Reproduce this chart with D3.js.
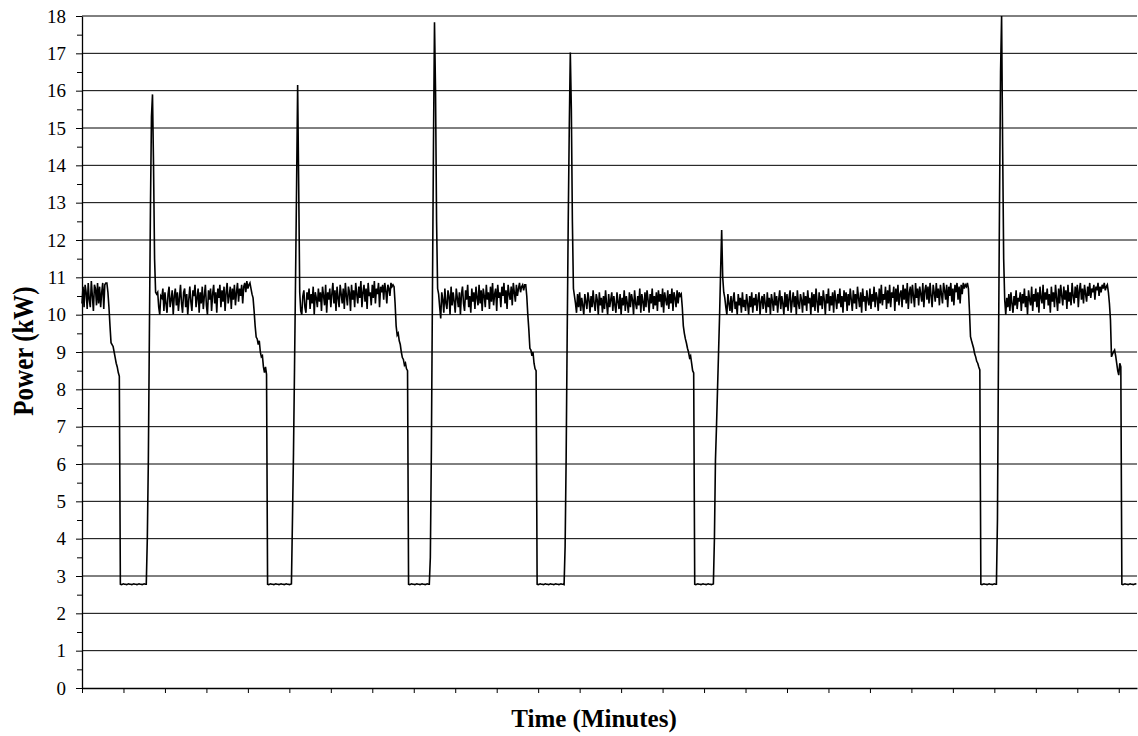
<!DOCTYPE html>
<html>
<head>
<meta charset="utf-8">
<script src="https://cdn.jsdelivr.net/npm/d3@7"></script>
<style>
  body { margin: 0; background: #fff; }
</style>
</head>
<body>
<svg width="1138" height="736"></svg>
<script>
// Logger samples (kW), one every 0.125 minute, grouped by compressor cycle:
// running, shutdown, idle, restart spike
const sampleStep = 0.125;

const cycle1 = [
  10.3, 10.75, 10.2, 10.8, 10.6, 10.15, 10.85, 10.4, 10.2, 10.9, 10.5, 10.1, 10.8, 10.7, 10.25, 10.85, 10.3, 10.75, 10.2, 10.6,
  10.85, 10.15, 10.8, 10.85,
  10.85, 10.6, 10.2, 9.7, 9.25, 9.2, 9.15, 9.0, 8.85, 8.7, 8.6, 8.45, 8.35,
  2.78, 2.77, 2.78, 2.79, 2.78, 2.78, 2.77, 2.78, 2.79, 2.78,
  2.78, 2.77, 2.78, 2.79, 2.78, 2.78, 2.77, 2.78, 2.79, 2.78,
  2.78, 2.77, 2.78, 2.79, 2.78, 2.78,
  4.0, 6.1, 9.5, 12.8, 15.3, 15.9, 14.0, 11.5, 10.6];

const cycle2 = [
  10.55, 10.6, 10.2, 10.0, 10.5, 10.45, 10.7, 10.1, 10.6, 10.3, 10.05, 10.55, 10.75, 10.2, 10.4, 10.65, 10.0, 10.5, 10.7, 10.25,
  10.6, 10.1, 10.45, 10.8, 10.3, 10.05, 10.6, 10.7, 10.2, 10.55, 10.0, 10.4, 10.75, 10.35, 10.1, 10.65, 10.5, 10.8, 10.2, 10.45,
  10.7, 10.05, 10.6, 10.3, 10.75, 10.15, 10.5, 10.8, 10.25, 10.0, 10.65, 10.4, 10.7, 10.1, 10.55, 10.8, 10.3, 10.6, 10.05, 10.7,
  10.45, 10.8, 10.2, 10.65, 10.35, 10.75, 10.1, 10.6, 10.85, 10.3, 10.5, 10.75, 10.15, 10.7, 10.4, 10.8, 10.25, 10.6, 10.85, 10.35,
  10.7, 10.5, 10.8, 10.3, 10.75, 10.85, 10.6, 10.9, 10.7, 10.8,
  10.85, 10.7, 10.55, 10.45, 10.1, 9.7, 9.4, 9.35, 9.2, 9.3, 9.0, 8.87, 8.9, 8.6, 8.45, 8.6, 8.4,
  2.78, 2.77, 2.78, 2.79, 2.78, 2.78, 2.77, 2.78, 2.79, 2.78,
  2.78, 2.77, 2.78, 2.79, 2.78, 2.78, 2.77, 2.78, 2.79, 2.78,
  2.78, 2.77, 2.78, 2.79,
  4.5, 6.3, 8.6, 11.0, 13.5, 16.15, 13.5, 10.6];

const cycle3 = [
  10.1, 10.0, 10.5, 10.65, 10.2, 10.05, 10.6, 10.4, 10.7, 10.15, 10.55, 10.3, 10.75, 10.0, 10.6, 10.45, 10.2, 10.7, 10.35, 10.6,
  10.1, 10.75, 10.5, 10.25, 10.8, 10.05, 10.6, 10.4, 10.7, 10.2, 10.55, 10.85, 10.3, 10.65, 10.1, 10.75, 10.45, 10.2, 10.8, 10.55,
  10.3, 10.7, 10.15, 10.85, 10.5, 10.25, 10.75, 10.6, 10.1, 10.8, 10.4, 10.65, 10.2, 10.85, 10.55, 10.3, 10.75, 10.45, 10.9, 10.2,
  10.6, 10.8, 10.35, 10.7, 10.15, 10.85, 10.5, 10.6, 10.25, 10.8, 10.45, 10.9, 10.3, 10.7, 10.55, 10.85, 10.2, 10.75, 10.6, 10.8,
  10.4, 10.85, 10.65, 10.3, 10.8, 10.7, 10.5, 10.85, 10.75, 10.8,
  10.75, 10.3, 9.7, 9.45, 9.5, 9.3, 9.2, 9.0, 8.85, 8.8, 8.65, 8.7, 8.55, 8.5,
  2.78, 2.77, 2.78, 2.79, 2.78, 2.78, 2.77, 2.78, 2.79, 2.78,
  2.78, 2.77, 2.78, 2.79, 2.78, 2.78, 2.77, 2.78, 2.79, 2.78,
  2.78,
  3.5, 6.4, 10.5, 14.5, 17.83, 16.0, 12.5, 10.7];

const cycle4 = [
  10.55, 10.2, 9.9, 10.6, 10.4, 10.05, 10.7, 10.3, 10.15, 10.65, 10.5, 10.0, 10.75, 10.25, 10.6, 10.35, 10.05, 10.7, 10.45, 10.2,
  10.6, 10.0, 10.55, 10.75, 10.3, 10.1, 10.65, 10.4, 10.8, 10.2, 10.5, 10.05, 10.7, 10.35, 10.6, 10.15, 10.75, 10.45, 10.25, 10.8,
  10.3, 10.65, 10.1, 10.7, 10.5, 10.2, 10.8, 10.4, 10.6, 10.15, 10.75, 10.35, 10.85, 10.25, 10.55, 10.7, 10.1, 10.8, 10.45, 10.6,
  10.2, 10.75, 10.5, 10.85, 10.3, 10.65, 10.15, 10.8, 10.55, 10.4, 10.75, 10.25, 10.85, 10.6, 10.35, 10.8, 10.5, 10.7, 10.85, 10.6,
  10.75, 10.8, 10.65, 10.8,
  10.8, 10.5, 10.0, 9.6, 9.1, 9.05, 8.9, 9.0, 8.7, 8.55, 8.5,
  2.78, 2.77, 2.78, 2.79, 2.78, 2.78, 2.77, 2.78, 2.79, 2.78,
  2.78, 2.77, 2.78, 2.79, 2.78, 2.78, 2.77, 2.78, 2.79, 2.78,
  2.78, 2.77, 2.78, 2.79, 2.78, 2.78, 2.77,
  3.8, 6.2, 9.5, 12.5, 15.0, 17.02, 15.5, 12.5, 10.7];

const cycle5 = [
  10.5, 10.3, 10.05, 10.55, 10.2, 10.6, 10.1, 10.45, 10.25, 10.0, 10.55, 10.35, 10.15, 10.6, 10.4, 10.05, 10.5, 10.2, 10.65, 10.3,
  10.1, 10.55, 10.4, 10.0, 10.6, 10.25, 10.45, 10.05, 10.5, 10.15, 10.65, 10.3, 10.0, 10.55, 10.2, 10.4, 10.6, 10.1, 10.5, 10.25,
  10.05, 10.6, 10.35, 10.15, 10.55, 10.0, 10.45, 10.25, 10.65, 10.1, 10.5, 10.3, 10.05, 10.6, 10.2, 10.55, 10.4, 10.0, 10.65, 10.3,
  10.15, 10.5, 10.25, 10.7, 10.05, 10.55, 10.35, 10.1, 10.6, 10.2, 10.65, 10.4, 10.05, 10.55, 10.3, 10.7, 10.15, 10.5, 10.25, 10.6,
  10.1, 10.65, 10.35, 10.55, 10.2, 10.7, 10.05, 10.6, 10.4, 10.25, 10.65, 10.15, 10.55, 10.3, 10.7, 10.1, 10.6, 10.45, 10.2, 10.65,
  10.3, 10.6, 10.5, 10.55,
  10.2, 9.7, 9.5, 9.35, 9.24, 9.1, 9.0, 8.85, 8.9, 8.7, 8.5, 8.44,
  2.78, 2.77, 2.78, 2.79, 2.78, 2.78, 2.77, 2.78, 2.79, 2.78,
  2.78, 2.77, 2.78, 2.79, 2.78, 2.78, 2.77, 2.78, 2.79,
  4.0, 6.1, 7.0, 8.0, 9.0, 10.0, 11.2, 12.27, 11.0, 10.6];

const cycle6 = [
  10.45, 10.2, 10.0, 10.55, 10.3, 10.1, 10.5, 10.05, 10.4, 10.6, 10.15, 10.35, 10.0, 10.55, 10.25, 10.45, 10.05, 10.6, 10.2, 10.4,
  10.1, 10.55, 10.3, 10.0, 10.5, 10.2, 10.6, 10.05, 10.45, 10.25, 10.55, 10.1, 10.4, 10.6, 10.0, 10.35, 10.5, 10.15, 10.55, 10.3,
  10.05, 10.6, 10.2, 10.45, 10.0, 10.55, 10.35, 10.1, 10.6, 10.25, 10.5, 10.05, 10.4, 10.65, 10.15, 10.5, 10.3, 10.0, 10.6, 10.2,
  10.55, 10.1, 10.45, 10.65, 10.05, 10.35, 10.6, 10.2, 10.5, 10.0, 10.65, 10.3, 10.15, 10.55, 10.4, 10.05, 10.6, 10.25, 10.5, 10.1,
  10.65, 10.3, 10.45, 10.0, 10.6, 10.2, 10.55, 10.1, 10.7, 10.35, 10.05, 10.6, 10.25, 10.5, 10.15, 10.65, 10.4, 10.0, 10.55, 10.3,
  10.7, 10.1, 10.5, 10.25, 10.6, 10.05, 10.65, 10.4, 10.15, 10.55, 10.3, 10.7, 10.2, 10.5, 10.05, 10.65, 10.35, 10.6, 10.1, 10.55,
  10.25, 10.7, 10.4, 10.1, 10.65, 10.3, 10.55, 10.15, 10.75, 10.45, 10.2, 10.6, 10.05, 10.7, 10.35, 10.5, 10.1, 10.65, 10.4, 10.25,
  10.7, 10.15, 10.55, 10.35, 10.75, 10.2, 10.6, 10.45, 10.1, 10.7, 10.3, 10.8, 10.25, 10.55, 10.4, 10.75, 10.15, 10.65, 10.3, 10.8,
  10.2, 10.6, 10.45, 10.75, 10.1, 10.7, 10.35, 10.8, 10.25, 10.55, 10.65, 10.2, 10.8, 10.4, 10.7, 10.3, 10.85, 10.15, 10.6, 10.75,
  10.3, 10.8, 10.5, 10.2, 10.85, 10.45, 10.7, 10.25, 10.75, 10.55, 10.35, 10.85, 10.2, 10.65, 10.8, 10.4, 10.75, 10.3, 10.85, 10.5,
  10.2, 10.8, 10.6, 10.35, 10.85, 10.45, 10.7, 10.25, 10.8, 10.55, 10.3, 10.85, 10.65, 10.4, 10.8, 10.2, 10.75, 10.5, 10.85, 10.35,
  10.7, 10.25, 10.8, 10.6, 10.85, 10.4, 10.75, 10.3, 10.8, 10.55, 10.85, 10.7, 10.8, 10.75, 10.85,
  10.7, 10.1, 9.41, 9.3, 9.2, 9.1, 8.95, 8.87, 8.75, 8.7, 8.6, 8.52,
  2.78, 2.77, 2.78, 2.79, 2.78, 2.78, 2.77, 2.78, 2.79, 2.78,
  2.78, 2.77, 2.78, 2.79, 2.78, 2.78,
  4.5, 9.0, 13.0, 16.5, 18.0, 14.5, 11.5, 10.4];

const cycle7 = [
  10.0, 10.45, 10.2, 10.55, 10.1, 10.6, 10.3, 10.05, 10.5, 10.25, 10.65, 10.15, 10.45, 10.35, 10.6, 10.1, 10.55, 10.3, 10.7, 10.2,
  10.5, 10.0, 10.65, 10.4, 10.25, 10.75, 10.1, 10.55, 10.35, 10.7, 10.2, 10.6, 10.05, 10.75, 10.45, 10.3, 10.8, 10.15, 10.6, 10.4,
  10.7, 10.25, 10.55, 10.05, 10.75, 10.35, 10.6, 10.2, 10.8, 10.45, 10.1, 10.7, 10.3, 10.8, 10.5, 10.25, 10.75, 10.4, 10.65, 10.15,
  10.8, 10.35, 10.6, 10.25, 10.85, 10.5, 10.3, 10.75, 10.45, 10.8, 10.2, 10.65, 10.85, 10.4, 10.7, 10.3, 10.8, 10.55, 10.35, 10.75,
  10.5, 10.85, 10.45, 10.7, 10.6, 10.8, 10.4, 10.75, 10.65, 10.85, 10.5, 10.75, 10.6, 10.8, 10.7, 10.85, 10.65, 10.75, 10.8,
  10.6, 10.3, 9.86, 8.87, 8.95, 9.0, 9.05, 8.9, 8.7, 8.5, 8.38, 8.7, 8.6,
  2.78, 2.77, 2.78, 2.79, 2.78, 2.78, 2.77, 2.78, 2.79, 2.78,
  2.78, 2.77, 2.78, 2.79, 2.78];

const yTicks = [0, 1, 2, 3, 4, 5, 6, 7, 8, 9, 10, 11, 12, 13, 14, 15, 16, 17, 18];
const xTickEvery = 5; // minutes between x tick marks
const timeSpan = 127.2;

const power = [].concat(cycle1, cycle2, cycle3, cycle4, cycle5, cycle6, cycle7);
const data = power.map((kw, i) => ({ minute: i * sampleStep, kw: kw }));

// Set SVG dimensions
const width = 1138;
const height = 736;
const margin = { top: 16, right: 1, bottom: 48, left: 82 };
const serif = "'Liberation Serif', 'Times New Roman', serif";

const svg = d3.select("svg");

// Scales
const xScale = d3.scaleLinear()
    .domain([0, timeSpan])
    .range([margin.left, width - margin.right]);

const yScale = d3.scaleLinear()
    .domain([0, 18])
    .range([height - margin.bottom, margin.top]);

// Horizontal gridlines
svg.append("g")
    .selectAll("line")
    .data(yTicks.filter(d => d > 0))
    .enter()
    .append("line")
    .attr("x1", margin.left)
    .attr("x2", width - margin.right)
    .attr("y1", d => yScale(d))
    .attr("y2", d => yScale(d))
    .attr("stroke", "#000")
    .attr("stroke-width", 1);

// Y axis with half-unit minor ticks
const yAxis = svg.append("g")
    .attr("transform", `translate(${margin.left}, 0)`);

yAxis.call(d3.axisLeft(yScale)
        .tickValues(d3.range(0.5, 18, 1))
        .tickSize(5)
        .tickFormat(""))
    .call(g => g.select(".domain").remove());

yAxis.append("g")
    .call(d3.axisLeft(yScale)
        .tickValues(yTicks)
        .tickSize(6)
        .tickSizeOuter(0)
        .tickPadding(10))
    .call(g => g.selectAll("text")
        .style("font-family", serif)
        .style("font-size", "19px")
        .attr("fill", "#000"))
    .call(g => g.select(".domain").attr("stroke", "#000").attr("stroke-width", 1.3));

// X axis: tick marks only
svg.append("g")
    .attr("transform", `translate(0, ${height - margin.bottom})`)
    .call(d3.axisBottom(xScale)
        .tickValues(d3.range(0, timeSpan, xTickEvery))
        .tickSize(5)
        .tickSizeOuter(0)
        .tickFormat(""))
    .call(g => g.select(".domain").attr("stroke", "#000").attr("stroke-width", 1.3));

// Power trace
const line = d3.line()
    .x(d => xScale(d.minute))
    .y(d => yScale(d.kw));

svg.append("path")
    .datum(data)
    .attr("fill", "none")
    .attr("stroke", "#000")
    .attr("stroke-width", 1.6)
    .attr("d", line);

// X-axis label
svg.append("text")
    .attr("x", 594)
    .attr("y", 727)
    .attr("text-anchor", "middle")
    .style("font-family", serif)
    .style("font-size", "25px")
    .style("font-weight", "bold")
    .text("Time (Minutes)");

// Y-axis label
svg.append("text")
    .attr("transform", `translate(33, ${yScale(9) - 1}) rotate(-90) scale(1, 1.2)`)
    .attr("text-anchor", "middle")
    .style("font-family", serif)
    .style("font-size", "25px")
    .style("font-weight", "bold")
    .text("Power (kW)");
</script>
</body>
</html>
